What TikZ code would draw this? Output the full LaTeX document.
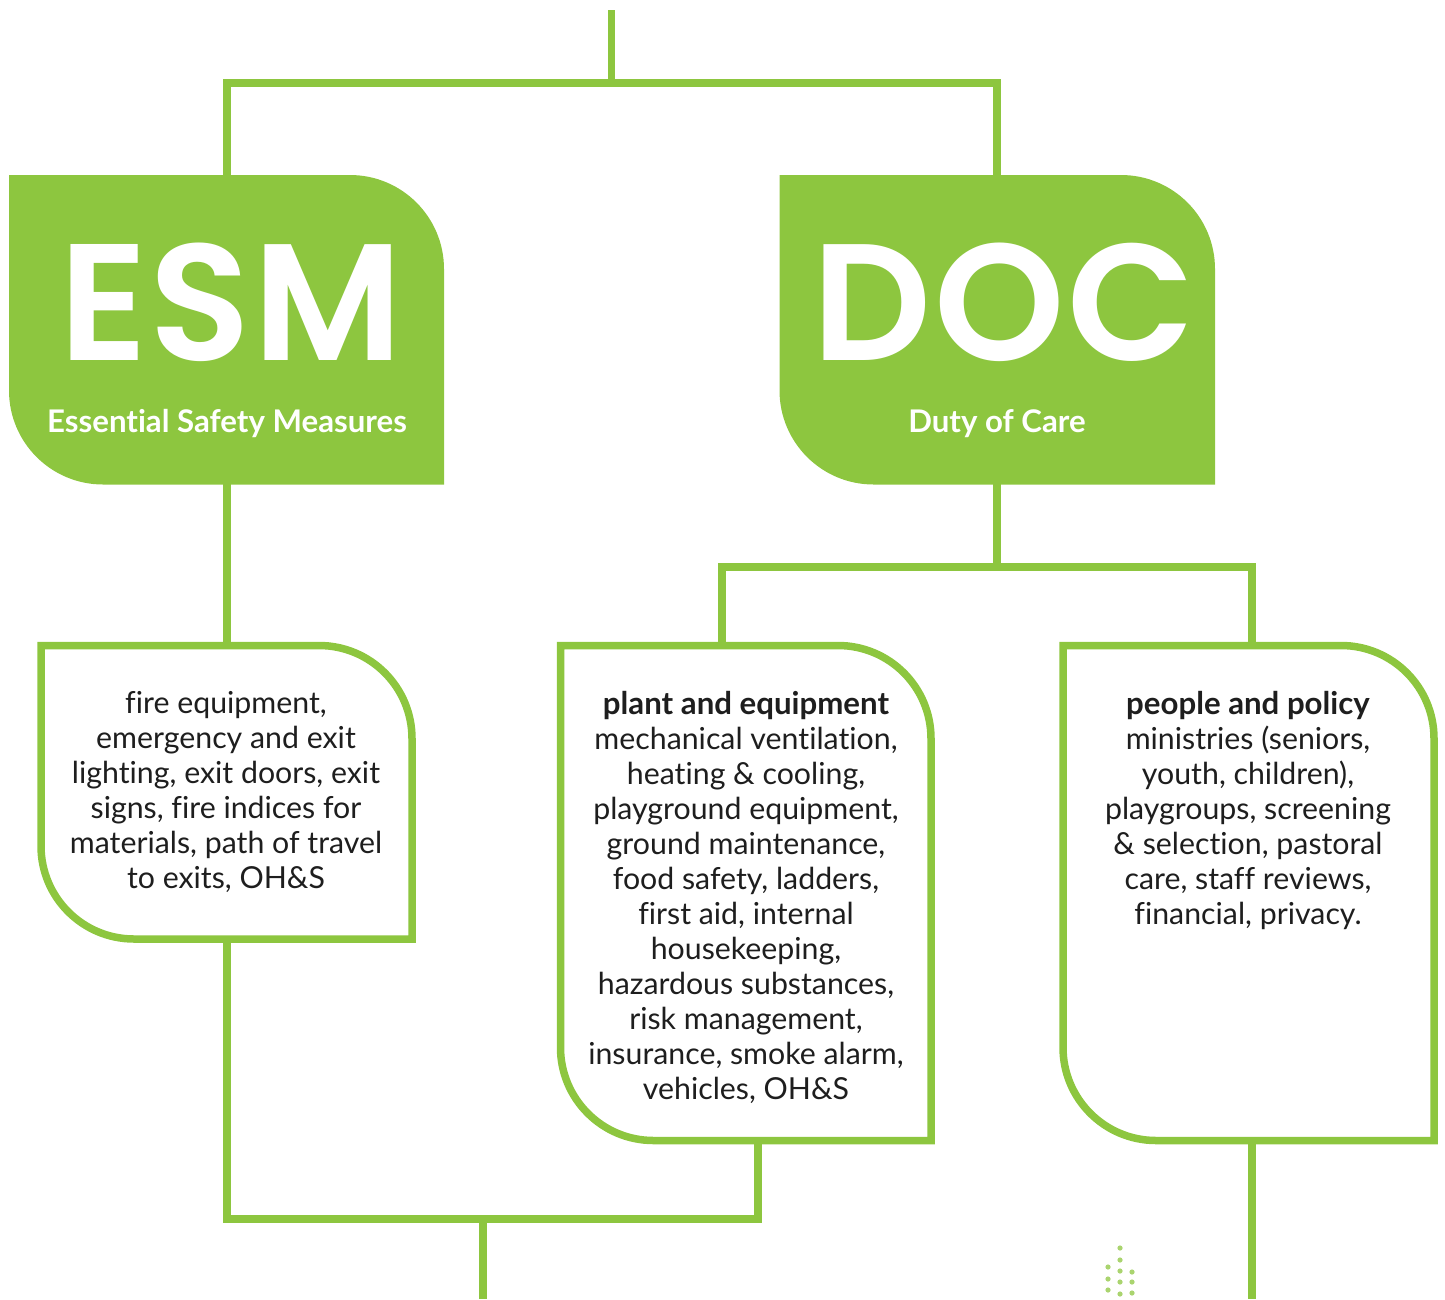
\documentclass[tikz,border=0pt]{standalone}
\usepackage{fontspec}
\setmainfont[Ligatures=NoCommon,BoldFeatures={Scale=1.03}]{Lato}
\newfontfamily\bigfont[LetterSpace=1.6]{Poppins SemiBold}
\definecolor{grn}{HTML}{8DC63F}
\definecolor{txt}{HTML}{1E1E1E}
\tikzset{
  px/.style={x=1pt,y=-1pt},
  wire/.style={draw=grn,line width=7.2pt,line cap=butt,line join=miter},
  hdr/.style={fill=grn,draw=none},
  card/.style={draw=grn,line width=7.5pt,fill=white,line join=miter},
  body/.style={text=txt,font=\fontsize{30.3}{35}\selectfont,align=center,anchor=north,inner sep=0pt},
  big/.style={text=white,font=\bigfont\fontsize{166}{166}\selectfont,anchor=base,inner sep=0pt,text height=118pt,text depth=0pt},
  sub/.style={text=white,font=\fontsize{30.3}{34}\selectfont\bfseries,anchor=center,inner sep=0pt},
  speck/.style={fill=grn,draw=none,opacity=.75},
}
\begin{document}
\begin{tikzpicture}[px]
\useasboundingbox (0,0) rectangle (1445,1299);
% junction coordinates
\coordinate (top) at (611.5,10);
\coordinate (topj) at (611.5,83);
\coordinate (tl) at (227,83);
\coordinate (tr) at (997,83);
\coordinate (esmT) at (227,180);
\coordinate (docT) at (997,180);
\coordinate (esmB) at (227,480);
\coordinate (card1T) at (227,648);
\coordinate (docB) at (997,480);
\coordinate (docJ) at (997,567);
\coordinate (jl) at (722,567);
\coordinate (jr) at (1252,567);
\coordinate (card2T) at (722,648);
\coordinate (card3T) at (1252,648);
\coordinate (card1B) at (227,936);
\coordinate (bl) at (227,1219);
\coordinate (card2B) at (758,1138);
\coordinate (br) at (758,1219);
\coordinate (bj) at (483,1219);
\coordinate (botA) at (483,1299);
\coordinate (card3B) at (1252,1138);
\coordinate (botB) at (1252,1299);
% connectors
\draw[wire] (top) -- (topj);
\draw[wire] (esmT) -- (tl) -- (tr) -- (docT);
\draw[wire] (esmB) -- (card1T);
\draw[wire] (docB) -- (docJ);
\draw[wire] (card2T) -- (jl) -- (jr) -- (card3T);
\draw[wire] (card1B) -- (bl) -- (br) -- (card2B);
\draw[wire] (bj) -- (botA);
\draw[wire] (card3B) -- (botB);
% headers
\path[hdr] (9,175) -- (350,175) arc[start angle=-90,end angle=0,radius=94] -- (444,484.5) -- (103,484.5) arc[start angle=90,end angle=180,radius=94] -- cycle;
\path[hdr] (779.5,175) -- (1121,175) arc[start angle=-90,end angle=0,radius=94] -- (1215,484.5) -- (873.5,484.5) arc[start angle=90,end angle=180,radius=94] -- cycle;
\node[big] (esm) at (231,360) {ESM};
\node[big] (doc) at (1004,360) {DOC};
\node[sub] (esms) at (227,424) {Essential Safety Measures};
\node[sub] (docs) at (997,424) {Duty of Care};
% cards
\path[card] (41,645.5) -- (319,645.5) arc[start angle=-90,end angle=0,radius=93] -- (412,939) -- (134,939) arc[start angle=90,end angle=180,radius=93] -- cycle;
\path[card] (560.5,645.5) -- (838,645.5) arc[start angle=-90,end angle=0,radius=93] -- (931,1140.5) -- (653.5,1140.5) arc[start angle=90,end angle=180,radius=93] -- cycle;
\path[card] (1063,645.5) -- (1341,645.5) arc[start angle=-90,end angle=0,radius=93] -- (1434,1140.5) -- (1156,1140.5) arc[start angle=90,end angle=180,radius=93] -- cycle;
\node[body] (c1) at (226,691.5) {fire equipment,\\emergency and exit\\lighting, exit doors, exit\\signs, fire indices for\\materials, path of travel\\to exits, OH\&S};
\node[body] (c2) at (746,691) {\textbf{plant and equipment}\\mechanical ventilation,\\heating \& cooling,\\playground equipment,\\ground maintenance,\\food safety, ladders,\\first aid, internal\\housekeeping,\\hazardous substances,\\risk management,\\insurance, smoke alarm,\\vehicles, OH\&S};
\node[body] (c3) at (1248,691) {\textbf{people and policy}\\ministries (seniors,\\youth, children),\\playgroups, screening\\\& selection, pastoral\\care, staff reviews,\\financial, privacy.};
% faint specks at the foot of the picture
\foreach \sx/\sy in {1120/1248,1120/1260,1108/1267,1120/1271,1132/1272,1108/1279,1120/1282,1132/1282,1108/1290,1120/1294,1132/1293}
  \path[speck] (\sx,\sy) circle[radius=2.6];
\end{tikzpicture}
\end{document}
